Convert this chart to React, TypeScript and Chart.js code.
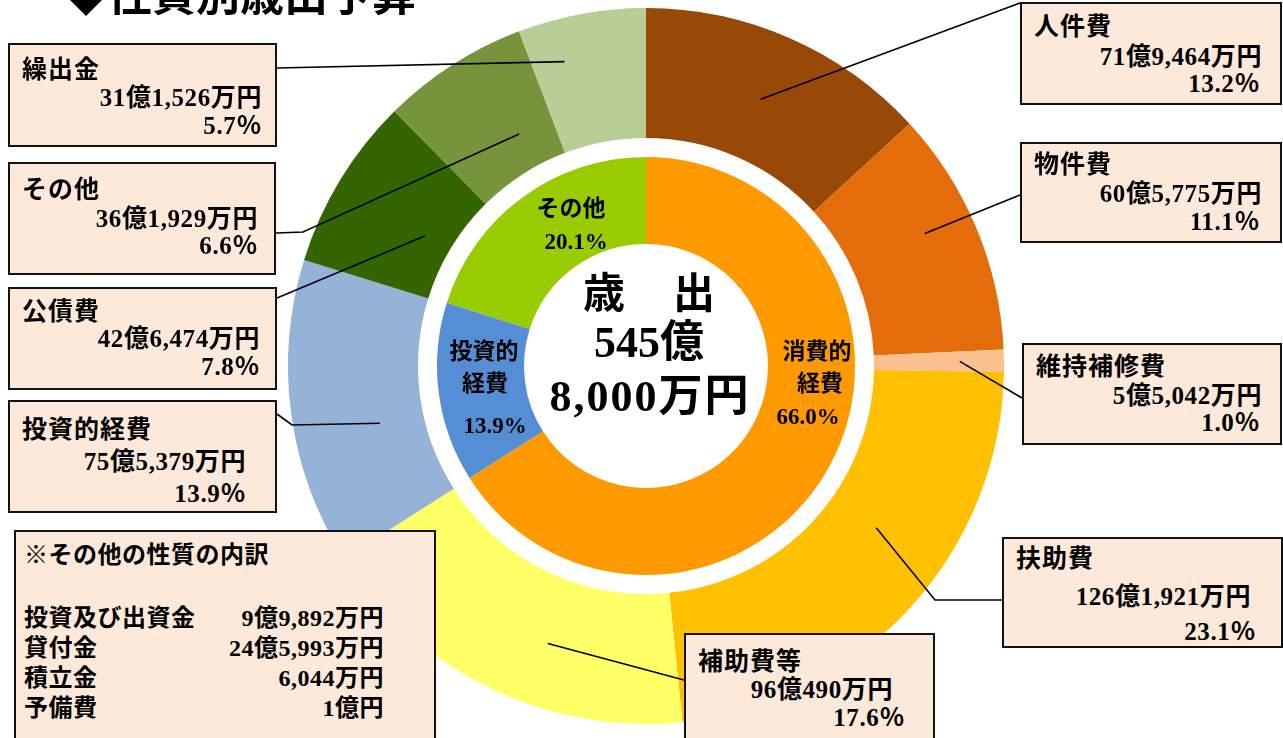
import { useEffect, useRef } from "react";
import { Chart, registerables } from "chart.js";

Chart.register(...registerables);

// ---------- data ----------
const outerCategories = ["人件費", "物件費", "維持補修費", "扶助費", "補助費等", "投資的経費", "公債費", "その他", "繰出金"];
const outerAmounts = [719464, 605775, 55042, 1261921, 960490, 755379, 426474, 361929, 315526]; // 万円
const outerAmountLabels = ["71億9,464万円", "60億5,775万円", "5億5,042万円", "126億1,921万円", "96億490万円", "75億5,379万円", "42億6,474万円", "36億1,929万円", "31億1,526万円"];
const outerPercentLabels = ["13.2％", "11.1％", "1.0％", "23.1％", "17.6％", "13.9％", "7.8％", "6.6％", "5.7％"];
const outerColors = ["#984807", "#E46C0A", "#FAC090", "#FFC000", "#FFFF66", "#95B3D7", "#336600", "#77933C", "#B9CD96"];

const innerCategories = ["消費的経費", "投資的経費", "その他"];
const innerPercents = [66.0, 13.9, 20.1];
const innerLabelLines = [["消費的", "経費", "66.0%"], ["投資的", "経費", "13.9%"], ["その他", "20.1%"]];
const innerColors = ["#FF9900", "#558ED5", "#99CC00"];

const centerWords = ["歳", "出"];
const centerLines = ["545億", "8,000万円"];

const breakdownTitle = "※その他の性質の内訳";
const breakdownItems = ["投資及び出資金", "貸付金", "積立金", "予備費"];
const breakdownAmounts = ["9億9,892万円", "24億5,993万円", "6,044万円", "1億円"];

const titleText = "◆性質別歳出予算";

// ---------- layout ----------
const FONT = '"Liberation Serif", "Noto Sans CJK JP", serif';
const W = 1283;
const H = 738;

// anchor inside each outer slice (fraction of angle, fraction of ring) and path to the box
const leaderLayout = [
  { t: 0.49, r: 0.48, path: [[1020, 3]] },
  { t: 0.43, r: 0.62, path: [[1020, 195]] },
  { t: 0.5, r: 0.66, path: [[1022, 398]] },
  { t: 0.41, r: 0.41, path: [[935, 600], [1002, 600]] },
  { t: 0.4, r: 0.51, path: [[684, 680]] },
  { t: 0.41, r: 0.34, path: [[292, 425], [277, 414]] },
  { t: 0.47, r: 0.22, path: [[277, 298]] },
  { t: 0.67, r: 0.28, path: [[303, 232], [276, 233]] },
  { t: 0.28, r: 0.67, path: [[277, 68]] },
];

// label boxes: left, top, width, height, title y, amount y/right, pct y/right (relative to box)
const boxLayout = [
  { l: 1020, t: 2, w: 262, h: 103, ty: 23, ay: 53, ar: 18, py: 80, pr: 20 },
  { l: 1020, t: 142, w: 262, h: 101, ty: 21, ay: 50, ar: 18, py: 78, pr: 20 },
  { l: 1022, t: 343, w: 260, h: 102, ty: 22, ay: 51, ar: 18, py: 78, pr: 20 },
  { l: 1002, t: 537, w: 281, h: 111, ty: 20, ay: 58, ar: 30, py: 93, pr: 25 },
  { l: 684, t: 633, w: 251, h: 112, ty: 27, ay: 55, ar: 40, py: 83, pr: 28 },
  { l: 8, t: 400, w: 269, h: 113, ty: 28, ay: 60, ar: 29, py: 92, pr: 29 },
  { l: 8, t: 287, w: 269, h: 103, ty: 23, ay: 50, ar: 15, py: 78, pr: 15 },
  { l: 8, t: 162, w: 268, h: 113, ty: 26, ay: 55, ar: 16, py: 82, pr: 16 },
  { l: 8, t: 43, w: 269, h: 104, ty: 25, ay: 53, ar: 13, py: 81, pr: 13 },
];

// inner label positions relative to the chart centre (one per text line)
const innerLabelLayout = [
  [[171, -13], [174, 19], [162, 52]],
  [[-162, -13], [-161, 19], [-151, 61]],
  [[-75, -156], [-70, -123]],
];

const leaderPlugin = {
  id: "leaders",
  afterDatasetsDraw(chart: any) {
    const ctx = chart.ctx;
    const meta = chart.getDatasetMeta(0);
    ctx.save();
    ctx.strokeStyle = "#000";
    ctx.lineWidth = 1.6;
    meta.data.forEach((arc: any, i: number) => {
      const p = arc.getProps(["x", "y", "startAngle", "endAngle", "innerRadius", "outerRadius"], true);
      const L = leaderLayout[i];
      const a = p.startAngle + (p.endAngle - p.startAngle) * L.t;
      const r = p.innerRadius + (p.outerRadius - p.innerRadius) * L.r;
      ctx.beginPath();
      ctx.moveTo(p.x + Math.cos(a) * r, p.y + Math.sin(a) * r);
      L.path.forEach(([qx, qy]) => ctx.lineTo(qx, qy));
      ctx.stroke();
    });

    // center text
    const arc0 = meta.data[0].getProps(["x", "y"], true);
    const cx = arc0.x;
    const cy = arc0.y;
    ctx.fillStyle = "#000";
    ctx.textAlign = "center";
    ctx.textBaseline = "middle";
    ctx.font = `bold 42px ${FONT}`;
    ctx.fillText(centerWords[0], cx - 42, cy - 69);
    ctx.fillText(centerWords[1], cx + 48, cy - 69);
    ctx.font = `bold 44px ${FONT}`;
    ctx.fillText(centerLines[0], cx + 3, cy - 20);
    try {
      (ctx as any).letterSpacing = "2px";
    } catch (e) {}
    ctx.fillText(centerLines[1], cx + 4, cy + 34);
    try {
      (ctx as any).letterSpacing = "0px";
    } catch (e) {}

    // inner labels
    ctx.font = `bold 23px ${FONT}`;
    innerLabelLines.forEach((lines, i) => {
      lines.forEach((s, j) => {
        const [dx, dy] = innerLabelLayout[i][j];
        ctx.fillText(s, cx + dx, cy + dy);
      });
    });
    ctx.restore();
  },
};

function LabelBox({ i }: { i: number }) {
  const b = boxLayout[i];
  const line = (text: string, top: number, style: any) => (
    <div style={{ position: "absolute", top: top - 15, height: 30, lineHeight: "30px", whiteSpace: "nowrap", ...style }}>{text}</div>
  );
  return (
    <div
      style={{
        position: "absolute",
        left: b.l,
        top: b.t,
        width: b.w,
        height: b.h,
        boxSizing: "border-box",
        background: "#FDE9D9",
        border: "2px solid #111",
        fontFamily: FONT,
        fontWeight: 700,
        fontSize: 25,
        color: "#000",
      }}
    >
      {line(outerCategories[i], b.ty, { left: 12, letterSpacing: "1px" })}
      {line(outerAmountLabels[i], b.ay, { right: b.ar, letterSpacing: "0.6px" })}
      {line(outerPercentLabels[i], b.py, { right: b.pr, letterSpacing: "0.6px" })}
    </div>
  );
}

export default function App() {
  const ref = useRef<HTMLCanvasElement>(null);

  useEffect(() => {
    if (!ref.current) return;
    const chart = new Chart(ref.current, {
      type: "doughnut",
      data: {
        labels: outerCategories,
        datasets: [
          { data: outerAmounts, backgroundColor: outerColors, borderWidth: 0, weight: 130 } as any,
          { data: [1], backgroundColor: ["rgba(255,255,255,0)"], borderWidth: 0, weight: 19 } as any,
          { data: innerPercents, backgroundColor: innerColors, borderWidth: 0, weight: 87, labels: innerCategories } as any,
        ],
      },
      options: {
        responsive: false,
        animation: false,
        cutout: 122,
        layout: { padding: { left: 288, right: 279, top: 8, bottom: 14 } },
        plugins: { legend: { display: false }, tooltip: { enabled: false } },
      },
      plugins: [leaderPlugin],
    });
    return () => chart.destroy();
  }, []);

  return (
    <div style={{ position: "absolute", left: 0, top: 0, width: W, height: H, overflow: "hidden", background: "#fff" }}>
      <canvas ref={ref} width={W} height={H} style={{ position: "absolute", left: 0, top: 0 }} />
      <div
        style={{
          position: "absolute",
          left: 64,
          top: -27,
          fontFamily: FONT,
          fontWeight: 700,
          fontSize: 44,
          lineHeight: "48px",
          whiteSpace: "nowrap",
          color: "#000",
        }}
      >
        {titleText}
      </div>
      {outerCategories.map((_, i) => (
        <LabelBox key={i} i={i} />
      ))}
      <div
        style={{
          position: "absolute",
          left: 14,
          top: 530,
          width: 422,
          height: 220,
          boxSizing: "border-box",
          background: "#FDE9D9",
          border: "2px solid #111",
          fontFamily: FONT,
          fontWeight: 700,
          fontSize: 24,
          color: "#000",
        }}
      >
        <div style={{ position: "absolute", left: 8, top: 8, lineHeight: "30px", whiteSpace: "nowrap", letterSpacing: "0.5px" }}>{breakdownTitle}</div>
        {breakdownItems.map((s, j) => (
          <div
            key={j}
            style={{
              position: "absolute",
              left: 8,
              right: 50,
              top: 71 + j * 30,
              lineHeight: "30px",
              whiteSpace: "nowrap",
              display: "flex",
              justifyContent: "space-between",
              letterSpacing: "0.5px",
            }}
          >
            <span>{s}</span>
            <span>{breakdownAmounts[j]}</span>
          </div>
        ))}
      </div>
    </div>
  );
}
